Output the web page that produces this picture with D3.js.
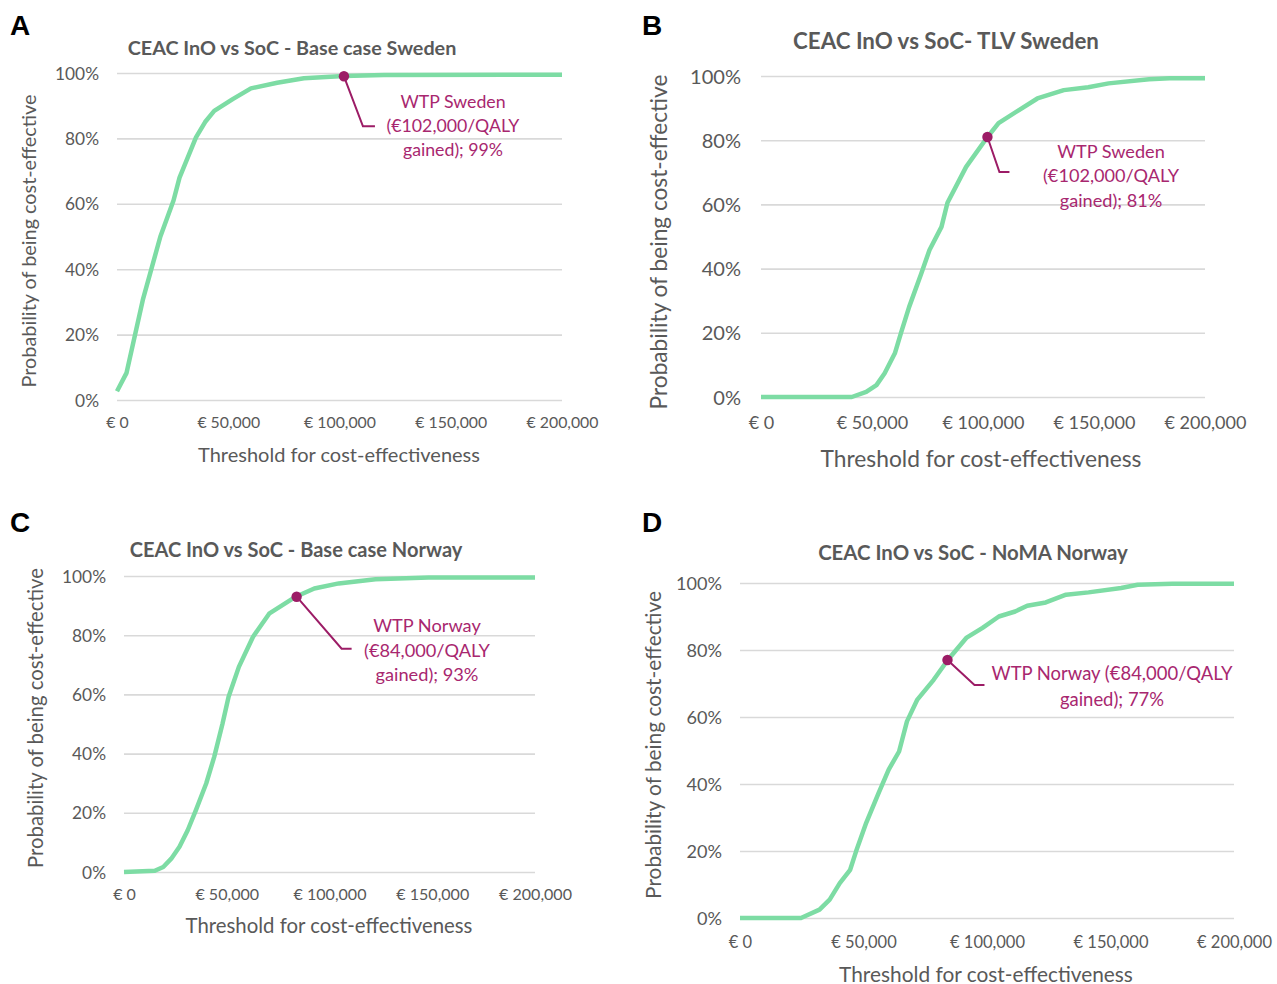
<!DOCTYPE html>
<html>
<head>
<meta charset="utf-8">
<script src="https://cdn.jsdelivr.net/npm/d3@7"></script>
<style>
  html, body { margin: 0; padding: 0; background: #ffffff; }
  svg { display: block; }
</style>
</head>
<body>
<svg id="chart" width="1277" height="984"></svg>
<script>
// ---------------- DATA ----------------
const xTickValues = [0, 50000, 100000, 150000, 200000];
const yTickValues = [0, 0.2, 0.4, 0.6, 0.8, 1.0];

const panelLetters = ["A", "B", "C", "D"];
const panelTitles = [
  "CEAC InO vs SoC - Base case Sweden",
  "CEAC InO vs SoC- TLV Sweden",
  "CEAC InO vs SoC - Base case Norway",
  "CEAC InO vs SoC - NoMA Norway"
];
const xAxisTitle = "Threshold for cost-effectiveness";
const yAxisTitle = "Probability of being cost-effective";

// Panel A – Base case Sweden
const thresholdA = [0, 4300, 11600, 19500, 25400, 28100, 35500, 39600, 43700, 52000, 60200, 72000, 84000, 102000, 120000, 200000];
const probA      = [0.027, 0.083, 0.306, 0.50, 0.61, 0.68, 0.803, 0.85, 0.884, 0.92, 0.953, 0.97, 0.984, 0.991, 0.994, 0.995];

// Panel B – TLV Sweden
const thresholdB = [0, 40900, 47400, 52000, 55700, 60300, 63000, 66700, 72200, 75900, 81300, 84000, 92400, 101600, 107000, 116200, 124500, 136400, 147400, 156600, 174800, 184000, 200000];
const probB      = [0, 0, 0.016, 0.037, 0.074, 0.136, 0.198, 0.28, 0.385, 0.458, 0.53, 0.605, 0.717, 0.806, 0.853, 0.894, 0.93, 0.956, 0.965, 0.977, 0.99, 0.993, 0.993];

// Panel C – Base case Norway
const thresholdC = [0, 15000, 19100, 23000, 27000, 31000, 35000, 40000, 43900, 47900, 50900, 55900, 62800, 70800, 83600, 92600, 104500, 122400, 148200, 200000];
const probC      = [0, 0.004, 0.017, 0.045, 0.085, 0.141, 0.209, 0.299, 0.389, 0.50, 0.592, 0.693, 0.795, 0.874, 0.93, 0.958, 0.975, 0.989, 0.995, 0.995];

// Panel D – NoMA Norway
const thresholdD = [0, 24700, 32200, 36300, 40400, 44600, 47000, 51100, 56100, 60200, 64400, 67600, 71800, 78400, 84200, 91600, 98200, 104800, 111400, 116300, 123800, 132000, 141100, 154300, 161000, 175000, 200000];
const probD      = [0, 0, 0.025, 0.055, 0.104, 0.144, 0.199, 0.284, 0.373, 0.443, 0.497, 0.587, 0.652, 0.711, 0.771, 0.836, 0.866, 0.90, 0.915, 0.932, 0.942, 0.965, 0.972, 0.985, 0.995, 0.998, 0.998];

// WTP annotation points
const wtpThreshold = [102000, 102000, 84000, 84000];
const wtpProb      = [0.99, 0.81, 0.93, 0.77];
const wtpLabels = [
  ["WTP Sweden", "(€102,000/QALY", "gained); 99%"],
  ["WTP Sweden", "(€102,000/QALY", "gained); 81%"],
  ["WTP Norway", "(€84,000/QALY", "gained); 93%"],
  ["WTP Norway (€84,000/QALY", "gained); 77%"]
];

const seriesX = [thresholdA, thresholdB, thresholdC, thresholdD];
const seriesY = [probA, probB, probC, probD];

// ---------------- LAYOUT ----------------
const layout = [
  { plot: [117, 562, 73, 400], letter: [10, 35], title: [292, 47, 329], yTickPad: 18, yTickW: 44,
    xTickY: 422, xTickW: 72, xTitle: [339, 454, 282], yTitle: [28, 241, 293],
    ann: [453, [101, 125, 149], 1, 133], leader: [[19, 50], [31, 50]] },
  { plot: [761, 1205, 76, 397], letter: [642, 35], title: [946, 40, 306], yTickPad: 20, yTickW: 51,
    xTickY: 423, xTickW: 82, xTitle: [981, 458, 321], yTitle: [658, 242, 335],
    ann: [1111, [151, 175, 200], 1, 136], leader: [[12, 35], [22, 35]] },
  { plot: [124, 535, 576, 872], letter: [10, 532], title: [296, 549, 333], yTickPad: 18, yTickW: 44,
    xTickY: 894, xTickW: 73, xTitle: [329, 925, 287], yTitle: [35, 718, 300],
    ann: [427, [625, 650, 674], 1, 126], leader: [[45, 52], [55, 52]] },
  { plot: [740, 1234, 583, 918], letter: [642, 532], title: [973, 552, 310], yTickPad: 18, yTickW: 46,
    xTickY: 942, xTickW: 75, xTitle: [986, 973, 294], yTitle: [652, 745, 308],
    ann: [1112, [673, 699], 0, 241], leader: [[27, 25], [37, 25]] }
];

const FONT = "Lato, 'Open Sans', sans-serif";
const TEXT_GRAY = "#595959";
const GRID = "#d9d9d9";
const GREEN = "#7ddca4";
const MARK = "#9c1c66";
const ANN_TEXT = "#a8276f";

const svg = d3.select("#chart");
svg.append("rect").attr("width", 1277).attr("height", 984).attr("fill", "#fff");

function fit(sel, target) {
  const len = sel.node().getComputedTextLength();
  const fs = parseFloat(sel.attr("font-size"));
  const nfs = fs * target / len;
  sel.attr("font-size", nfs);
  return nfs;
}

const euroFmt = d => "€\u00a0" + d3.format(",")(d);
const pctFmt = d3.format(".0%");

layout.forEach((L, i) => {
  const [x0, x1, yT, yB] = L.plot;
  const x = d3.scaleLinear().domain([0, 200000]).range([x0, x1]);
  const y = d3.scaleLinear().domain([0, 1]).range([yB, yT]);
  const g = svg.append("g");

  // panel letter
  g.append("text").attr("x", L.letter[0]).attr("y", L.letter[1])
    .attr("font-family", "Arial, 'Liberation Sans', sans-serif").attr("font-weight", "bold")
    .attr("font-size", 28).attr("fill", "#000").text(panelLetters[i]);

  // title
  const t = g.append("text").attr("x", L.title[0]).attr("y", L.title[1])
    .attr("text-anchor", "middle").attr("dominant-baseline", "central")
    .attr("font-family", FONT).attr("font-weight", "bold").attr("font-size", 18)
    .attr("fill", TEXT_GRAY).text(panelTitles[i]);
  fit(t, L.title[2]);

  // y gridlines + labels
  const yAxis = d3.axisLeft(y).tickValues(yTickValues).tickFormat(pctFmt)
    .tickSize(-(x1 - x0)).tickPadding(L.yTickPad);
  const ya = g.append("g").attr("transform", `translate(${x0},0)`).call(yAxis);
  ya.select(".domain").remove();
  ya.selectAll(".tick line").attr("stroke", GRID).attr("stroke-width", 1.6);
  ya.selectAll(".tick text").attr("font-family", FONT).attr("font-size", 16)
    .attr("fill", TEXT_GRAY).attr("dy", "0.35em");
  {
    const first = ya.selectAll(".tick text").filter(d => d === 1);
    const fs = fit(first, L.yTickW);
    ya.selectAll(".tick text").attr("font-size", fs);
  }

  // x labels
  const xAxis = d3.axisBottom(x).tickValues(xTickValues).tickFormat(euroFmt).tickSize(0).tickPadding(0);
  const xa = g.append("g").attr("transform", `translate(0,${L.xTickY})`).call(xAxis);
  xa.select(".domain").remove();
  xa.selectAll(".tick line").remove();
  xa.selectAll(".tick text").attr("font-family", FONT).attr("font-size", 16)
    .attr("fill", TEXT_GRAY).attr("y", 0).attr("dy", "0.35em");
  {
    const last = xa.selectAll(".tick text").filter(d => d === 200000);
    const fs = fit(last, L.xTickW);
    xa.selectAll(".tick text").attr("font-size", fs);
  }

  // axis titles
  const xt = g.append("text").attr("x", L.xTitle[0]).attr("y", L.xTitle[1])
    .attr("text-anchor", "middle").attr("dominant-baseline", "central")
    .attr("font-family", FONT).attr("font-size", 18).attr("fill", TEXT_GRAY).text(xAxisTitle);
  fit(xt, L.xTitle[2]);
  const yt = g.append("text")
    .attr("transform", `translate(${L.yTitle[0]},${L.yTitle[1]}) rotate(-90)`)
    .attr("text-anchor", "middle").attr("dominant-baseline", "central")
    .attr("font-family", FONT).attr("font-size", 18).attr("fill", TEXT_GRAY).text(yAxisTitle);
  fit(yt, L.yTitle[2]);

  // curve
  const pts = seriesX[i].map((v, k) => [v, seriesY[i][k]]);
  const line = d3.line().x(d => x(d[0])).y(d => y(d[1]));
  g.append("path").datum(pts).attr("d", line).attr("fill", "none")
    .attr("stroke", GREEN).attr("stroke-width", 4.5)
    .attr("stroke-linejoin", "round").attr("stroke-linecap", "butt");

  // leader + marker
  const mx = x(wtpThreshold[i]), my = y(wtpProb[i]);
  const lead = [[mx, my], [mx + L.leader[0][0], my + L.leader[0][1]], [mx + L.leader[1][0], my + L.leader[1][1]]];
  g.append("path").attr("d", d3.line()(lead)).attr("fill", "none")
    .attr("stroke", MARK).attr("stroke-width", 2);
  g.append("circle").attr("cx", mx).attr("cy", my).attr("r", 5.2).attr("fill", MARK);

  // annotation text
  const annLines = wtpLabels[i];
  const texts = annLines.map((s, k) => g.append("text")
    .attr("x", L.ann[0]).attr("y", L.ann[1][k])
    .attr("text-anchor", "middle").attr("dominant-baseline", "central")
    .attr("font-family", FONT).attr("font-size", 17).attr("fill", ANN_TEXT).text(s));
  const fs = fit(texts[L.ann[2]], L.ann[3]);
  texts.forEach(tx => tx.attr("font-size", fs));
});
</script>
</body>
</html>
